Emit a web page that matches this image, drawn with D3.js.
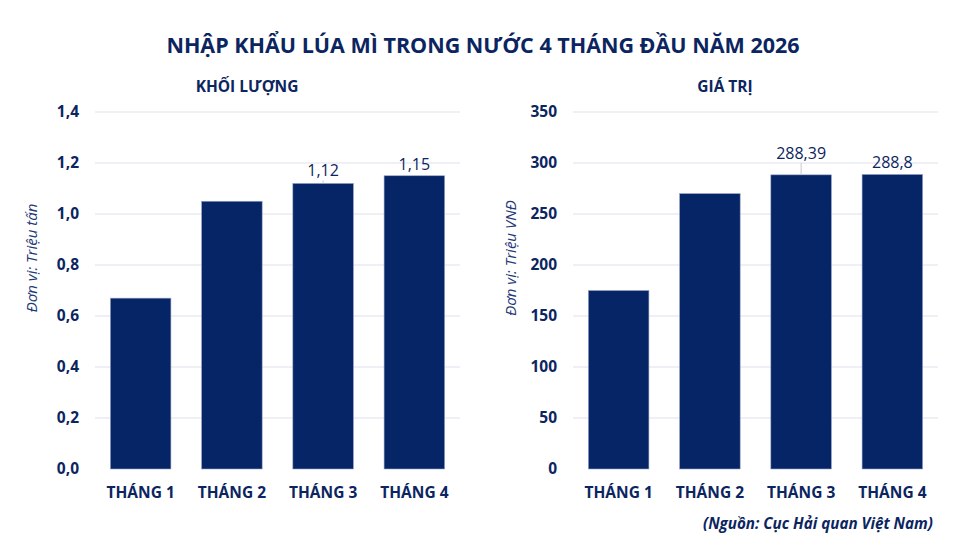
<!DOCTYPE html>
<html>
<head>
<meta charset="utf-8">
<script src="https://cdn.jsdelivr.net/npm/d3@7"></script>
<style>
  html, body { margin: 0; padding: 0; background: #fff; }
  svg { display: block; font-family: "Open Sans", sans-serif; }
</style>
</head>
<body>
<svg id="chart" width="966" height="543"></svg>
<script>
const categories = ["THÁNG 1", "THÁNG 2", "THÁNG 3", "THÁNG 4"];
const volumeValues = [0.67, 1.05, 1.12, 1.15];
const valueValues = [175, 270, 288.39, 288.8];
const volumeLabels = [null, null, "1,12", "1,15"];
const valueLabels = [null, null, "288,39", "288,8"];
const volumeTicks = [0, 0.2, 0.4, 0.6, 0.8, 1.0, 1.2, 1.4];
const valueTicks = [0, 50, 100, 150, 200, 250, 300, 350];

const navy = "#0b2560";
const barFill = "#062566";
const svg = d3.select("#chart");

svg.append("text").attr("x", 483).attr("y", 53).attr("text-anchor", "middle")
  .attr("font-size", 21.5).attr("font-weight", 700).attr("fill", navy)
  .text("NHẬP KHẨU LÚA MÌ TRONG NƯỚC 4 THÁNG ĐẦU NĂM 2026");

function panel(opts) {
  const g = svg.append("g");
  const x = d3.scaleBand().domain(categories).range([opts.x0, opts.x1])
    .paddingInner(0.336).paddingOuter(0.168);
  const y = d3.scaleLinear().domain([0, opts.max]).range([469, 112]);

  g.append("text").attr("x", opts.titleX).attr("y", 92).attr("text-anchor", "middle")
    .attr("font-size", 15.5).attr("font-weight", 700).attr("fill", navy).text(opts.title);

  g.append("g").selectAll("line").data(opts.ticks.slice(1)).join("line")
    .attr("x1", opts.x0).attr("x2", opts.x1)
    .attr("y1", d => y(d)).attr("y2", d => y(d))
    .attr("stroke", "#dde2ee").attr("stroke-width", 1.2);

  const axis = d3.axisLeft(y).tickValues(opts.ticks).tickSize(0).tickPadding(0)
    .tickFormat(opts.fmt);
  const ag = g.append("g").attr("transform", `translate(${opts.x0 - 16},0)`).call(axis);
  ag.select(".domain").remove();
  ag.selectAll("text").attr("font-size", 15.5).attr("font-weight", 700)
    .attr("fill", navy).attr("font-family", "'Open Sans', sans-serif");

  g.append("g").selectAll("rect").data(opts.values).join("rect")
    .attr("x", (d, i) => x(categories[i]))
    .attr("width", x.bandwidth())
    .attr("y", d => y(d))
    .attr("height", d => y(0) - y(d))
    .attr("fill", barFill).attr("stroke", "#9aa6c8").attr("stroke-width", 0.6);

  const xa = d3.axisBottom(x).tickSize(0).tickPadding(0);
  const xg = g.append("g").attr("transform", "translate(0,487)").call(xa);
  xg.select(".domain").remove();
  xg.selectAll("text").attr("font-size", 15.5).attr("font-weight", 700)
    .attr("fill", navy).attr("font-family", "'Open Sans', sans-serif").attr("dy", "0.71em");

  opts.values.forEach((v, i) => {
    const lab = opts.labels[i];
    if (!lab) return;
    const cx = x(categories[i]) + x.bandwidth() / 2;
    const lift = opts.lift[i] || 0;
    const by = y(v) - 6 - lift;
    if (lift > 0) {
      g.append("line").attr("x1", cx).attr("x2", cx)
        .attr("y1", by + 4).attr("y2", y(v))
        .attr("stroke", "#c8c8c8").attr("stroke-width", 1);
    }
    g.append("text").attr("x", cx).attr("y", by).attr("text-anchor", "middle")
      .attr("font-size", 16).attr("fill", navy).text(lab);
  });

  g.append("text")
    .attr("transform", `translate(${opts.unitX},258) rotate(-90)`)
    .attr("text-anchor", "middle").attr("font-size", 15).attr("font-style", "italic")
    .attr("fill", "#1f3a78").text(opts.unit);
}

panel({
  x0: 95, x1: 460, max: 1.4, ticks: volumeTicks, values: volumeValues,
  labels: volumeLabels, lift: [0, 0, 1, 0],
  fmt: d => d3.format(".1f")(d).replace(".", ","),
  title: "KHỐI LƯỢNG", titleX: 247, unit: "Đơn vị: Triệu tấn", unitX: 37
});
panel({
  x0: 573, x1: 938, max: 350, ticks: valueTicks, values: valueValues,
  labels: valueLabels, lift: [0, 0, 10, 0],
  fmt: d => String(d),
  title: "GIÁ TRỊ", titleX: 725, unit: "Đơn vị: Triệu VNĐ", unitX: 516
});

svg.append("text").attr("x", 933).attr("y", 529).attr("text-anchor", "end")
  .attr("font-size", 15.2).attr("font-weight", 700).attr("font-style", "italic")
  .attr("fill", navy).text("(Nguồn: Cục Hải quan Việt Nam)");
</script>
</body>
</html>
